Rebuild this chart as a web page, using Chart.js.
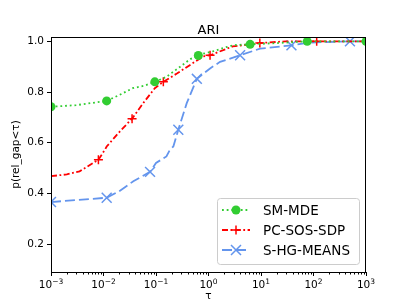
<!DOCTYPE html>
<html>
<head>
<meta charset="utf-8">
<script src="https://cdn.jsdelivr.net/npm/chart.js@4.4.0/dist/chart.umd.min.js"></script>
<style>
  html, body { margin: 0; padding: 0; background: #fff; }
  canvas { display: block; }
</style>
</head>
<body>
<canvas id="profileChart" width="407" height="305"></canvas>
<script>
// performance profile, ARI
var smTau  = [0.001, 0.003, 0.0115, 0.02, 0.036, 0.06, 0.095, 0.158, 0.29, 0.45, 0.64, 0.69, 1.2, 2, 3, 6.2, 20, 76, 1000];
var smProb = [0.742, 0.748, 0.765, 0.788, 0.815, 0.825, 0.84, 0.86, 0.9, 0.93, 0.944, 0.948, 0.96, 0.975, 0.985, 0.988, 0.993, 1.0, 1.0];

var pcTau  = [0.001, 0.002, 0.0035, 0.008, 0.0107, 0.0115, 0.0204, 0.035, 0.057, 0.095, 0.138, 0.25, 0.44, 0.79, 1.07, 2.9, 9.5, 30, 115, 1000];
var pcProb = [0.468, 0.475, 0.487, 0.533, 0.573, 0.585, 0.644, 0.695, 0.756, 0.815, 0.84, 0.873, 0.906, 0.94, 0.945, 0.98, 0.993, 1.0, 1.0, 1.0];

var hgTau  = [0.001, 0.0115, 0.02, 0.037, 0.077, 0.1, 0.158, 0.185, 0.214, 0.266, 0.385, 0.6, 1.07, 1.66, 4, 9.6, 38, 85, 495, 1000];
var hgProb = [0.366, 0.383, 0.409, 0.448, 0.485, 0.52, 0.546, 0.573, 0.585, 0.651, 0.756, 0.852, 0.893, 0.919, 0.945, 0.971, 0.984, 0.995, 1.0, 1.0];

var seriesNames = ['SM-MDE', 'PC-SOS-SDP', 'S-HG-MEANS'];
var xTicks = [0.001, 0.01, 0.1, 1, 10, 100, 1000];
var yTicks = [0.2, 0.4, 0.6, 0.8, 1.0];

function pts(xs, ys) {
    return xs.map(function (x, i) { return { x: x, y: ys[i] }; });
}
function marks(list, r) {
    return function (c) { return list.indexOf(c.dataIndex) >= 0 ? r : 0; };
}

var styles = [
    { color: '#32CD32', dash: [1.8, 2.9], marker: 'circle' },
    { color: '#FF0000', dash: [6, 2.5, 1.8, 2.5], marker: 'plus' },
    { color: '#6495ED', dash: [10, 4], marker: 'x' }
];

var FONT = "'DejaVu Sans', sans-serif";

var frame = {
    id: 'frame',
    afterDraw: function (chart) {
        var c = chart.ctx, a = chart.chartArea;
        var xs = chart.scales.x;
        c.save();
        // spines
        c.strokeStyle = '#000';
        c.lineWidth = 1;
        c.strokeRect(a.left + 0.5, a.top + 0.5, a.right - a.left - 1, a.bottom - a.top);
        // minor log ticks
        c.beginPath();
        for (var d = -3; d < 3; d++) {
            for (var k = 2; k < 10; k++) {
                var px = Math.round(xs.getPixelForValue(k * Math.pow(10, d))) + 0.5;
                c.moveTo(px, a.bottom);
                c.lineTo(px, a.bottom + 2.5);
            }
        }
        c.stroke();

        // x tick labels, 10 with raised exponent
        c.fillStyle = '#000';
        c.textBaseline = 'alphabetic';
        c.textAlign = 'left';
        xTicks.forEach(function (v) {
            var e = Math.round(Math.log10(v));
            var expStr = e < 0 ? '\u2212' + (-e) : String(e);
            c.font = '10.5px ' + FONT;
            var wb = c.measureText('10').width;
            c.font = '7.5px ' + FONT;
            var we = c.measureText(expStr).width;
            var x0 = xs.getPixelForValue(v) - (wb + we) / 2;
            c.font = '10.5px ' + FONT;
            c.fillText('10', x0, 288);
            c.font = '7.5px ' + FONT;
            c.fillText(expStr, x0 + wb, 283.5);
        });

        // title and axis labels
        c.textAlign = 'center';
        c.font = '13px ' + FONT;
        c.fillText('ARI', (a.left + a.right) / 2, 34);
        c.textBaseline = 'middle';
        c.font = '10.5px ' + FONT;
        c.fillText('\u03C4', (a.left + a.right) / 2, 296);
        c.save();
        c.translate(16, (a.top + a.bottom) / 2);
        c.rotate(-Math.PI / 2);
        c.fillText('p(rel_gap<\u03C4)', 0, 0);
        c.restore();

        // legend
        var bx = 217, by = 198, bw = 142, bh = 66;
        c.beginPath();
        c.roundRect(bx + 0.5, by + 0.5, bw, bh, 3);
        c.fillStyle = 'rgba(255,255,255,0.8)';
        c.fill();
        c.strokeStyle = '#cccccc';
        c.lineWidth = 1;
        c.stroke();
        c.font = '13.5px ' + FONT;
        c.textAlign = 'left';
        for (var i = 0; i < seriesNames.length; i++) {
            var ly = 210 + i * 20, st = styles[i];
            c.strokeStyle = st.color;
            c.fillStyle = st.color;
            c.lineWidth = 1.8;
            c.setLineDash(st.dash);
            c.beginPath();
            c.moveTo(222, ly);
            c.lineTo(250, ly);
            c.stroke();
            c.setLineDash([]);
            var mx = 236;
            c.beginPath();
            if (st.marker === 'circle') {
                c.arc(mx, ly, 4.5, 0, Math.PI * 2);
                c.fill();
            } else if (st.marker === 'plus') {
                c.lineWidth = 1.5;
                c.moveTo(mx - 4.5, ly); c.lineTo(mx + 4.5, ly);
                c.moveTo(mx, ly - 4.5); c.lineTo(mx, ly + 4.5);
                c.stroke();
            } else {
                c.lineWidth = 1.5;
                c.moveTo(mx - 5, ly - 5); c.lineTo(mx + 5, ly + 5);
                c.moveTo(mx - 5, ly + 5); c.lineTo(mx + 5, ly - 5);
                c.stroke();
            }
            c.fillStyle = '#000';
            c.fillText(seriesNames[i], 263, ly + 1);
        }
        c.restore();
    }
};

Chart.defaults.font.family = FONT;
Chart.defaults.font.size = 10.5;
Chart.defaults.color = '#000';

var ctx = document.getElementById('profileChart').getContext('2d');
var myChart = new Chart(ctx, {
    type: 'line',
    data: {
        datasets: [{
            label: seriesNames[0],
            data: pts(smTau, smProb),
            borderColor: styles[0].color,
            backgroundColor: styles[0].color,
            borderWidth: 1.8,
            borderDash: styles[0].dash,
            pointStyle: 'circle',
            pointRadius: marks([0, 2, 6, 10, 15, 17, 18], 4.5),
            pointBorderWidth: 0,
            clip: 0
        }, {
            label: seriesNames[1],
            data: pts(pcTau, pcProb),
            borderColor: styles[1].color,
            backgroundColor: styles[1].color,
            borderWidth: 1.8,
            borderDash: styles[1].dash,
            pointStyle: 'cross',
            pointRadius: marks([3, 7, 10, 14, 16, 18], 4.5),
            pointBorderWidth: 1.5,
            clip: 0
        }, {
            label: seriesNames[2],
            data: pts(hgTau, hgProb),
            borderColor: styles[2].color,
            backgroundColor: styles[2].color,
            borderWidth: 1.8,
            borderDash: styles[2].dash,
            pointStyle: 'crossRot',
            pointRadius: marks([0, 1, 4, 9, 11, 14, 16, 18], 7),
            pointBorderWidth: 1.5,
            clip: 0
        }]
    },
    options: {
        responsive: false,
        animation: false,
        devicePixelRatio: 1,
        layout: { padding: { left: 0, right: 41, top: 37, bottom: 0 } },
        plugins: {
            legend: { display: false },
            title: { display: false },
            tooltip: { enabled: false }
        },
        elements: { line: { tension: 0, fill: false } },
        scales: {
            x: {
                type: 'logarithmic',
                min: 0.001,
                max: 1000,
                afterBuildTicks: function (s) {
                    s.ticks = xTicks.map(function (v) { return { value: v }; });
                },
                afterFit: function (s) { s.height = 33; },
                ticks: { display: false, autoSkip: false, maxRotation: 0 },
                grid: { drawOnChartArea: false, drawTicks: true, tickLength: 4, color: '#000' },
                border: { display: true, color: '#000', width: 1 }
            },
            y: {
                type: 'linear',
                min: 0.09,
                max: 1.017,
                afterBuildTicks: function (s) {
                    s.ticks = yTicks.map(function (v) { return { value: v }; });
                },
                afterFit: function (s) { s.width = 51; },
                ticks: {
                    padding: 3,
                    callback: function (v) { return v.toFixed(1); }
                },
                grid: { drawOnChartArea: false, drawTicks: true, tickLength: 4, color: '#000' },
                border: { display: true, color: '#000', width: 1 }
            }
        }
    },
    plugins: [frame]
});
</script>
</body>
</html>
